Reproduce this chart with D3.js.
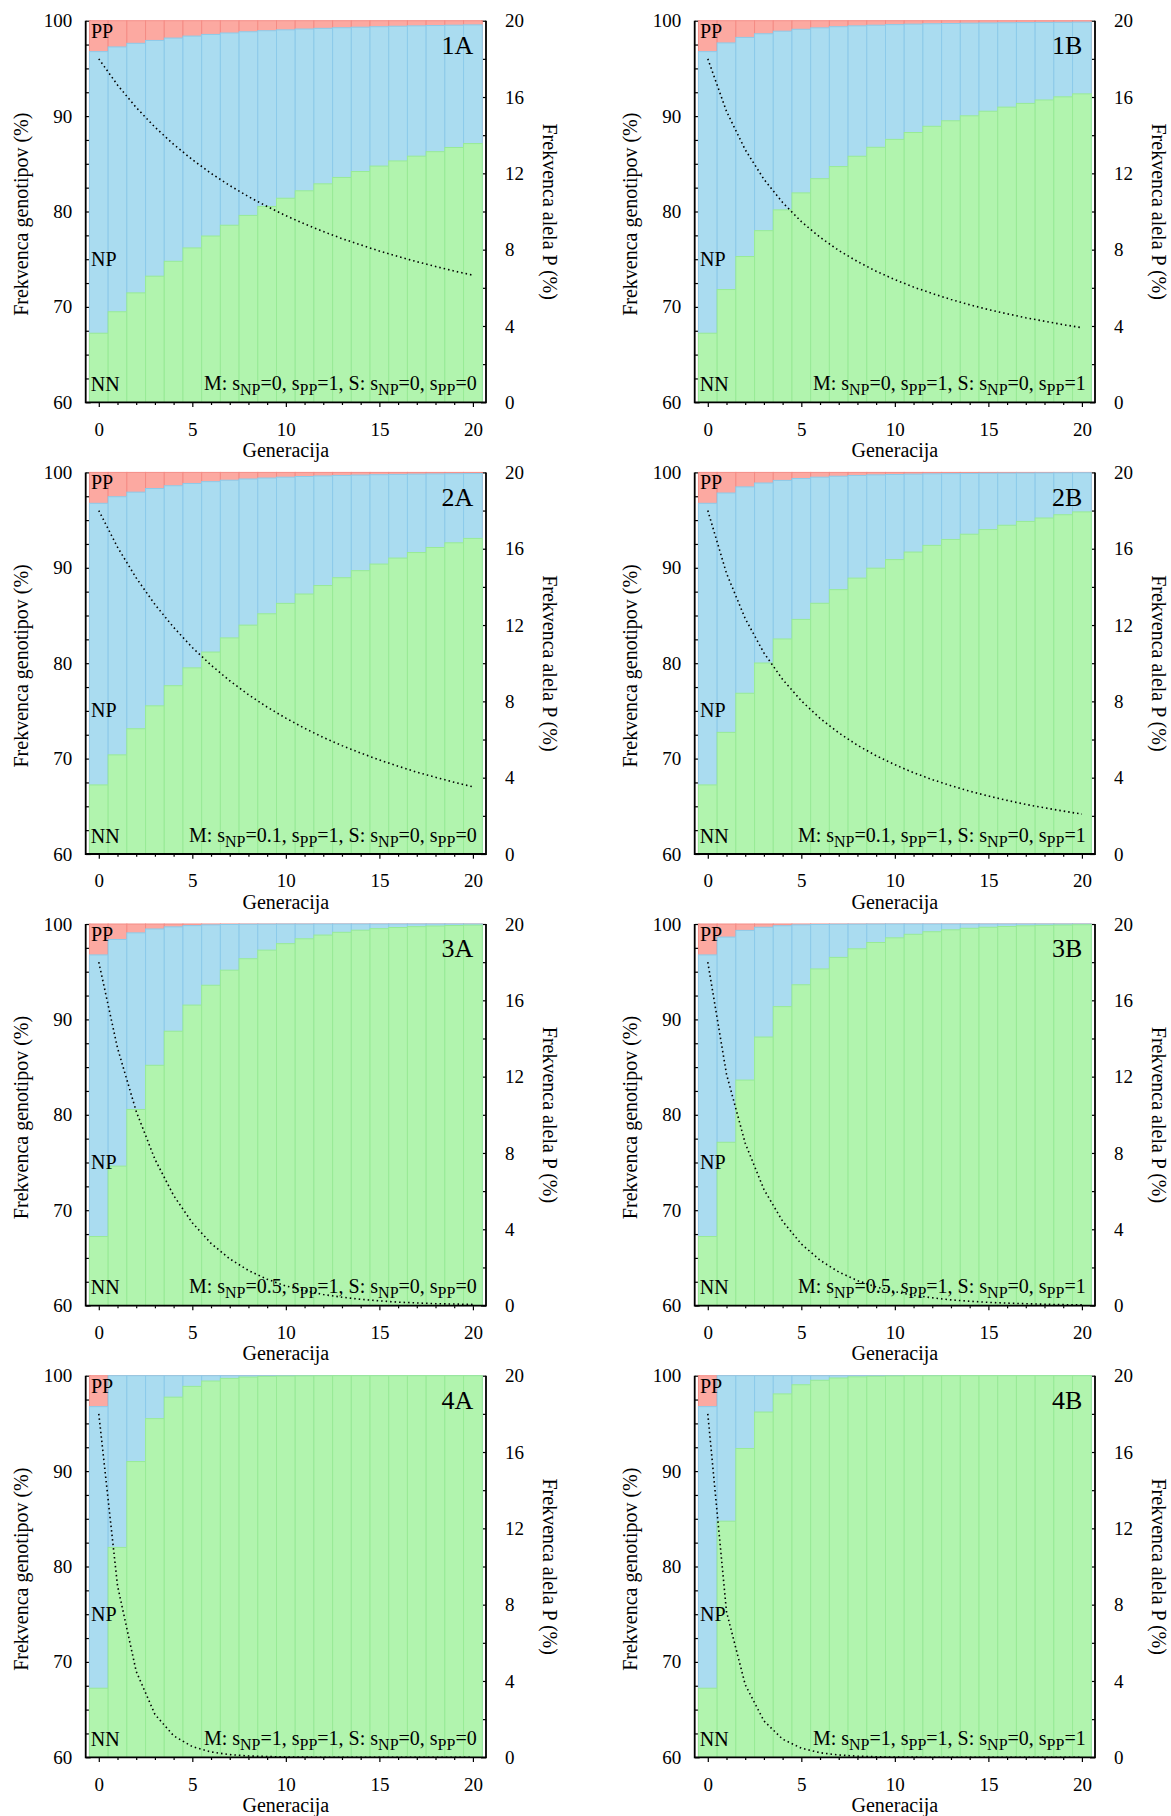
<!DOCTYPE html>
<html>
<head>
<meta charset="utf-8">
<script src="https://cdn.jsdelivr.net/npm/d3@7"></script>
<style>
  body { margin: 0; background: #fff; }
  svg { display: block; font-family: "Liberation Serif", "Times New Roman", Times, serif; }
</style>
</head>
<body>
<div id="chart"></div>
<script>
// generations on the x axis
const generations = [0, 1, 2, 3, 4, 5, 6, 7, 8, 9, 10, 11, 12, 13, 14, 15, 16, 17, 18, 19, 20];

const panel_names = ['1A', '1B', '2A', '2B', '3A', '3B', '4A', '4B'];
const m_snp = ['0', '0', '0.1', '0.1', '0.5', '0.5', '1', '1'];
const m_spp = ['1', '1', '1', '1', '1', '1', '1', '1'];
const s_snp = ['0', '0', '0', '0', '0', '0', '0', '0'];
const s_spp = ['0', '1', '0', '1', '0', '1', '0', '1'];

const y_ticks = [60, 70, 80, 90, 100];
const y_minor = [62.5, 65, 67.5, 72.5, 75, 77.5, 82.5, 85, 87.5, 92.5, 95, 97.5];
const y2_ticks = [0, 4, 8, 12, 16, 20];
const y2_minor = [2, 6, 10, 14, 18];
const x_ticks = [0, 5, 10, 15, 20];
const x_minor = [1, 2, 3, 4, 6, 7, 8, 9, 11, 12, 13, 14, 16, 17, 18, 19];

// NN (%), NN+NP (%), allele P (%) per generation
const nn_1a = [67.24, 69.49, 71.47, 73.22, 74.78, 76.18, 77.43, 78.56, 79.59, 80.53, 81.39, 82.17, 82.90, 83.57, 84.19, 84.76, 85.30, 85.80, 86.27, 86.71, 87.12];
const top_1a = [96.76, 97.25, 97.63, 97.93, 98.18, 98.39, 98.56, 98.71, 98.84, 98.95, 99.04, 99.13, 99.20, 99.26, 99.32, 99.37, 99.42, 99.46, 99.49, 99.53, 99.56];
const p_1a = [18.00, 16.63, 15.45, 14.42, 13.52, 12.72, 12.00, 11.36, 10.78, 10.26, 9.78, 9.35, 8.95, 8.58, 8.25, 7.93, 7.64, 7.37, 7.12, 6.88, 6.66];

const nn_1b = [67.24, 71.82, 75.28, 77.99, 80.17, 81.95, 83.44, 84.71, 85.79, 86.73, 87.56, 88.28, 88.93, 89.51, 90.03, 90.51, 90.94, 91.33, 91.69, 92.02, 92.33];
const top_1b = [96.76, 97.67, 98.25, 98.63, 98.90, 99.10, 99.25, 99.37, 99.46, 99.53, 99.59, 99.64, 99.68, 99.71, 99.74, 99.76, 99.78, 99.80, 99.82, 99.83, 99.85];
const p_1b = [18.00, 15.25, 13.24, 11.69, 10.47, 9.47, 8.65, 7.96, 7.38, 6.87, 6.43, 6.04, 5.70, 5.39, 5.11, 4.86, 4.64, 4.43, 4.25, 4.07, 3.91];

const nn_2a = [67.24, 70.39, 73.13, 75.53, 77.64, 79.51, 81.17, 82.65, 83.99, 85.18, 86.27, 87.25, 88.14, 88.96, 89.70, 90.39, 91.02, 91.60, 92.13, 92.62, 93.08];
const top_2a = [96.76, 97.45, 97.93, 98.31, 98.60, 98.84, 99.03, 99.18, 99.31, 99.41, 99.50, 99.57, 99.63, 99.68, 99.72, 99.76, 99.79, 99.82, 99.84, 99.86, 99.88];
const p_2a = [18.00, 16.08, 14.47, 13.08, 11.88, 10.82, 9.90, 9.08, 8.35, 7.70, 7.12, 6.59, 6.11, 5.68, 5.29, 4.93, 4.60, 4.29, 4.02, 3.76, 3.52];

const nn_2b = [67.24, 72.75, 76.85, 80.02, 82.54, 84.59, 86.28, 87.71, 88.92, 89.96, 90.86, 91.65, 92.35, 92.97, 93.52, 94.01, 94.46, 94.86, 95.22, 95.56, 95.86];
const top_2b = [96.76, 97.84, 98.48, 98.89, 99.16, 99.36, 99.50, 99.60, 99.68, 99.74, 99.78, 99.82, 99.85, 99.87, 99.89, 99.91, 99.92, 99.93, 99.94, 99.95, 99.96];
const p_2b = [18.00, 14.71, 12.34, 10.54, 9.15, 8.03, 7.11, 6.35, 5.70, 5.15, 4.68, 4.26, 3.90, 3.58, 3.29, 3.04, 2.81, 2.60, 2.42, 2.25, 2.09];

const nn_3a = [67.24, 74.62, 80.56, 85.19, 88.76, 91.50, 93.58, 95.16, 96.36, 97.26, 97.94, 98.45, 98.84, 99.13, 99.35, 99.51, 99.63, 99.72, 99.79, 99.84, 99.88];
const top_3a = [96.76, 98.38, 99.07, 99.48, 99.70, 99.83, 99.91, 99.95, 99.97, 99.98, 99.99, 99.99, 100, 100, 100, 100, 100, 100, 100, 100, 100];
const p_3a = [18.00, 13.50, 10.18, 7.67, 5.77, 4.34, 3.26, 2.45, 1.84, 1.38, 1.03, 0.78, 0.58, 0.44, 0.33, 0.25, 0.18, 0.14, 0.10, 0.08, 0.06];

const nn_3b = [67.24, 77.12, 83.64, 88.15, 91.34, 93.63, 95.29, 96.50, 97.40, 98.06, 98.55, 98.92, 99.19, 99.39, 99.55, 99.66, 99.74, 99.81, 99.86, 99.89, 99.92];
const top_3b = [96.76, 98.63, 99.33, 99.66, 99.82, 99.91, 99.95, 99.97, 99.98, 99.99, 100, 100, 100, 100, 100, 100, 100, 100, 100, 100, 100];
const p_3b = [18.00, 12.13, 8.51, 6.09, 4.42, 3.23, 2.38, 1.76, 1.31, 0.98, 0.73, 0.54, 0.41, 0.30, 0.23, 0.17, 0.13, 0.10, 0.07, 0.05, 0.04];

const nn_4a = [67.24, 82.00, 91.00, 95.50, 97.75, 98.88, 99.44, 99.72, 99.86, 99.93, 99.96, 99.98, 99.99, 100, 100, 100, 100, 100, 100, 100, 100];
const top_4a = [96.76, 100, 100, 100, 100, 100, 100, 100, 100, 100, 100, 100, 100, 100, 100, 100, 100, 100, 100, 100, 100];
const p_4a = [18.00, 9.00, 4.50, 2.25, 1.13, 0.56, 0.28, 0.14, 0.07, 0.04, 0.02, 0.01, 0, 0, 0, 0, 0, 0, 0, 0, 0];

const nn_4b = [67.24, 84.75, 92.37, 96.19, 98.09, 99.05, 99.52, 99.76, 99.88, 99.94, 99.97, 99.99, 99.99, 100, 100, 100, 100, 100, 100, 100, 100];
const top_4b = [96.76, 100, 100, 100, 100, 100, 100, 100, 100, 100, 100, 100, 100, 100, 100, 100, 100, 100, 100, 100, 100];
const p_4b = [18.00, 7.63, 3.81, 1.91, 0.95, 0.48, 0.24, 0.12, 0.06, 0.03, 0.01, 0.01, 0, 0, 0, 0, 0, 0, 0, 0, 0];

const nn_data = [nn_1a, nn_1b, nn_2a, nn_2b, nn_3a, nn_3b, nn_4a, nn_4b];
const top_data = [top_1a, top_1b, top_2a, top_2b, top_3a, top_3b, top_4a, top_4b];
const p_data = [p_1a, p_1b, p_2a, p_2b, p_3a, p_3b, p_4a, p_4b];

const font_family = '"Liberation Serif", "Times New Roman", Times, serif';
const pp_fill = '#fca9a1', pp_edge = '#f48c85';
const np_fill = '#aadcf0', np_edge = '#8ccbea';
const nn_fill = '#b1f4ae', nn_edge = '#98ea96';

const col_x = [85.7, 694.7];
const row_y = [20.7, 472.4, 924.0, 1375.7];
const plot_w = 400.3;
const plot_h = 381.6;
const x_domain = [-0.7, 20.7];

const svg = d3.select('#chart').append('svg')
  .attr('width', 1171)
  .attr('height', 1816)
  .style('background', '#fff')
  .attr('font-family', font_family);

function tick_axis(g, axis, tx, ty, font_size) {
  const a = g.append('g')
    .attr('transform', 'translate(' + tx + ',' + ty + ')')
    .call(axis);
  a.select('.domain').remove();
  a.attr('font-family', font_family).attr('font-size', font_size);
  a.selectAll('text').attr('fill', '#000');
  a.selectAll('line').attr('stroke', '#000').attr('stroke-width', 1.2);
  return a;
}

function draw_panel(k) {
  const col = k % 2, row = Math.floor(k / 2);
  const left = col_x[col], top = row_y[row];
  const right = left + plot_w, bottom = top + plot_h;

  const x = d3.scaleLinear().domain(x_domain).range([left, right]);
  const y = d3.scaleLinear().domain([60, 100]).range([bottom, top]);
  const y2 = d3.scaleLinear().domain([0, 20]).range([bottom, top]);

  const g = svg.append('g').attr('class', 'panel');

  // inward ticks first, bars cover what sits inside the plot
  tick_axis(g, d3.axisLeft(y).tickValues(y_ticks).tickSize(-5).tickSizeOuter(0).tickPadding(13.4), left, 0, 19);
  tick_axis(g, d3.axisLeft(y).tickValues(y_minor).tickSize(-3.6).tickSizeOuter(0).tickFormat(''), left, 0, 19);
  tick_axis(g, d3.axisRight(y2).tickValues(y2_ticks).tickSize(-5).tickSizeOuter(0).tickPadding(19), right, 0, 19);
  tick_axis(g, d3.axisRight(y2).tickValues(y2_minor).tickSize(-3.4).tickSizeOuter(0).tickFormat(''), right, 0, 19);
  tick_axis(g, d3.axisBottom(x).tickValues(x_ticks).tickSize(4.7).tickSizeOuter(0).tickPadding(15.2), 0, bottom, 19);
  tick_axis(g, d3.axisBottom(x).tickValues(x_minor).tickSize(2.7).tickSizeOuter(0).tickFormat(''), 0, bottom, 19);

  const rows = generations.map((gen, i) => ({gen: gen, nn: nn_data[k][i], top: top_data[k][i]}));
  const layers = [
    {value: () => 100, fill: pp_fill, edge: pp_edge},
    {value: (d) => d.top, fill: np_fill, edge: np_edge},
    {value: (d) => d.nn, fill: nn_fill, edge: nn_edge}
  ];
  for (let layer of layers) {
    g.append('g').selectAll('rect')
      .data(rows)
      .enter()
      .append('rect')
        .attr('x', (d) => x(d.gen - 0.5))
        .attr('width', (d) => x(d.gen + 0.5) - x(d.gen - 0.5))
        .attr('y', (d) => y(layer.value(d)))
        .attr('height', (d) => y(60) - y(layer.value(d)))
        .attr('fill', layer.fill)
        .attr('stroke', layer.edge)
        .attr('stroke-width', 1);
  }

  // plot border (no top line)
  g.append('path')
    .attr('d', 'M' + left + ',' + top + 'V' + bottom + 'H' + right + 'V' + top)
    .attr('fill', 'none')
    .attr('stroke', '#000')
    .attr('stroke-width', 1.8);

  const line = d3.line()
    .x((d, i) => x(generations[i]))
    .y((d) => y2(d));
  g.append('path')
    .datum(p_data[k])
    .attr('d', line)
    .attr('fill', 'none')
    .attr('stroke', '#000')
    .attr('stroke-width', 1.6)
    .attr('stroke-dasharray', '1.5,3');

  const label = (tx, ty, txt, size, anchor) => g.append('text')
    .attr('x', tx).attr('y', ty)
    .attr('font-size', size)
    .attr('text-anchor', anchor || 'start')
    .attr('fill', '#000')
    .text(txt);

  label(left + 5.3, top + 17, 'PP', 20);
  label(left + 5.3, top + 245, 'NP', 20);
  label(left + 5, bottom - 11.3, 'NN', 20);
  label(right - 12.7, top + 33.3, panel_names[k], 26, 'end');

  const par = g.append('text')
    .attr('x', right - 9.3)
    .attr('y', bottom - 12.3)
    .attr('font-size', 20)
    .attr('text-anchor', 'end')
    .attr('fill', '#000');
  const parts = [
    ['M: s', 0], ['NP', 1], ['=' + m_snp[k] + ', s', 0], ['PP', 1], ['=' + m_spp[k] + ', S: s', 0],
    ['NP', 1], ['=' + s_snp[k] + ', s', 0], ['PP', 1], ['=' + s_spp[k], 0]
  ];
  let shifted = 0;
  for (let p of parts) {
    const dy = p[1] ? 5 - shifted : -shifted;
    shifted = p[1] ? 5 : 0;
    par.append('tspan')
      .attr('dy', dy)
      .attr('font-size', p[1] ? 16 : 20)
      .text(p[0]);
  }

  // axis titles
  g.append('text')
    .attr('transform', 'translate(' + (left - 57.7) + ',' + (top + 193.5) + ') rotate(-90)')
    .attr('text-anchor', 'middle')
    .attr('font-size', 20)
    .text('Frekvenca genotipov (%)');
  g.append('text')
    .attr('transform', 'translate(' + (right + 56.5) + ',' + (top + 191) + ') rotate(90)')
    .attr('text-anchor', 'middle')
    .attr('font-size', 20)
    .text('Frekvenca alela P (%)');
  g.append('text')
    .attr('x', (left + right) / 2)
    .attr('y', bottom + 54.5)
    .attr('text-anchor', 'middle')
    .attr('font-size', 20)
    .text('Generacija');
}

for (let k = 0; k < panel_names.length; k++) draw_panel(k);
</script>
</body>
</html>
